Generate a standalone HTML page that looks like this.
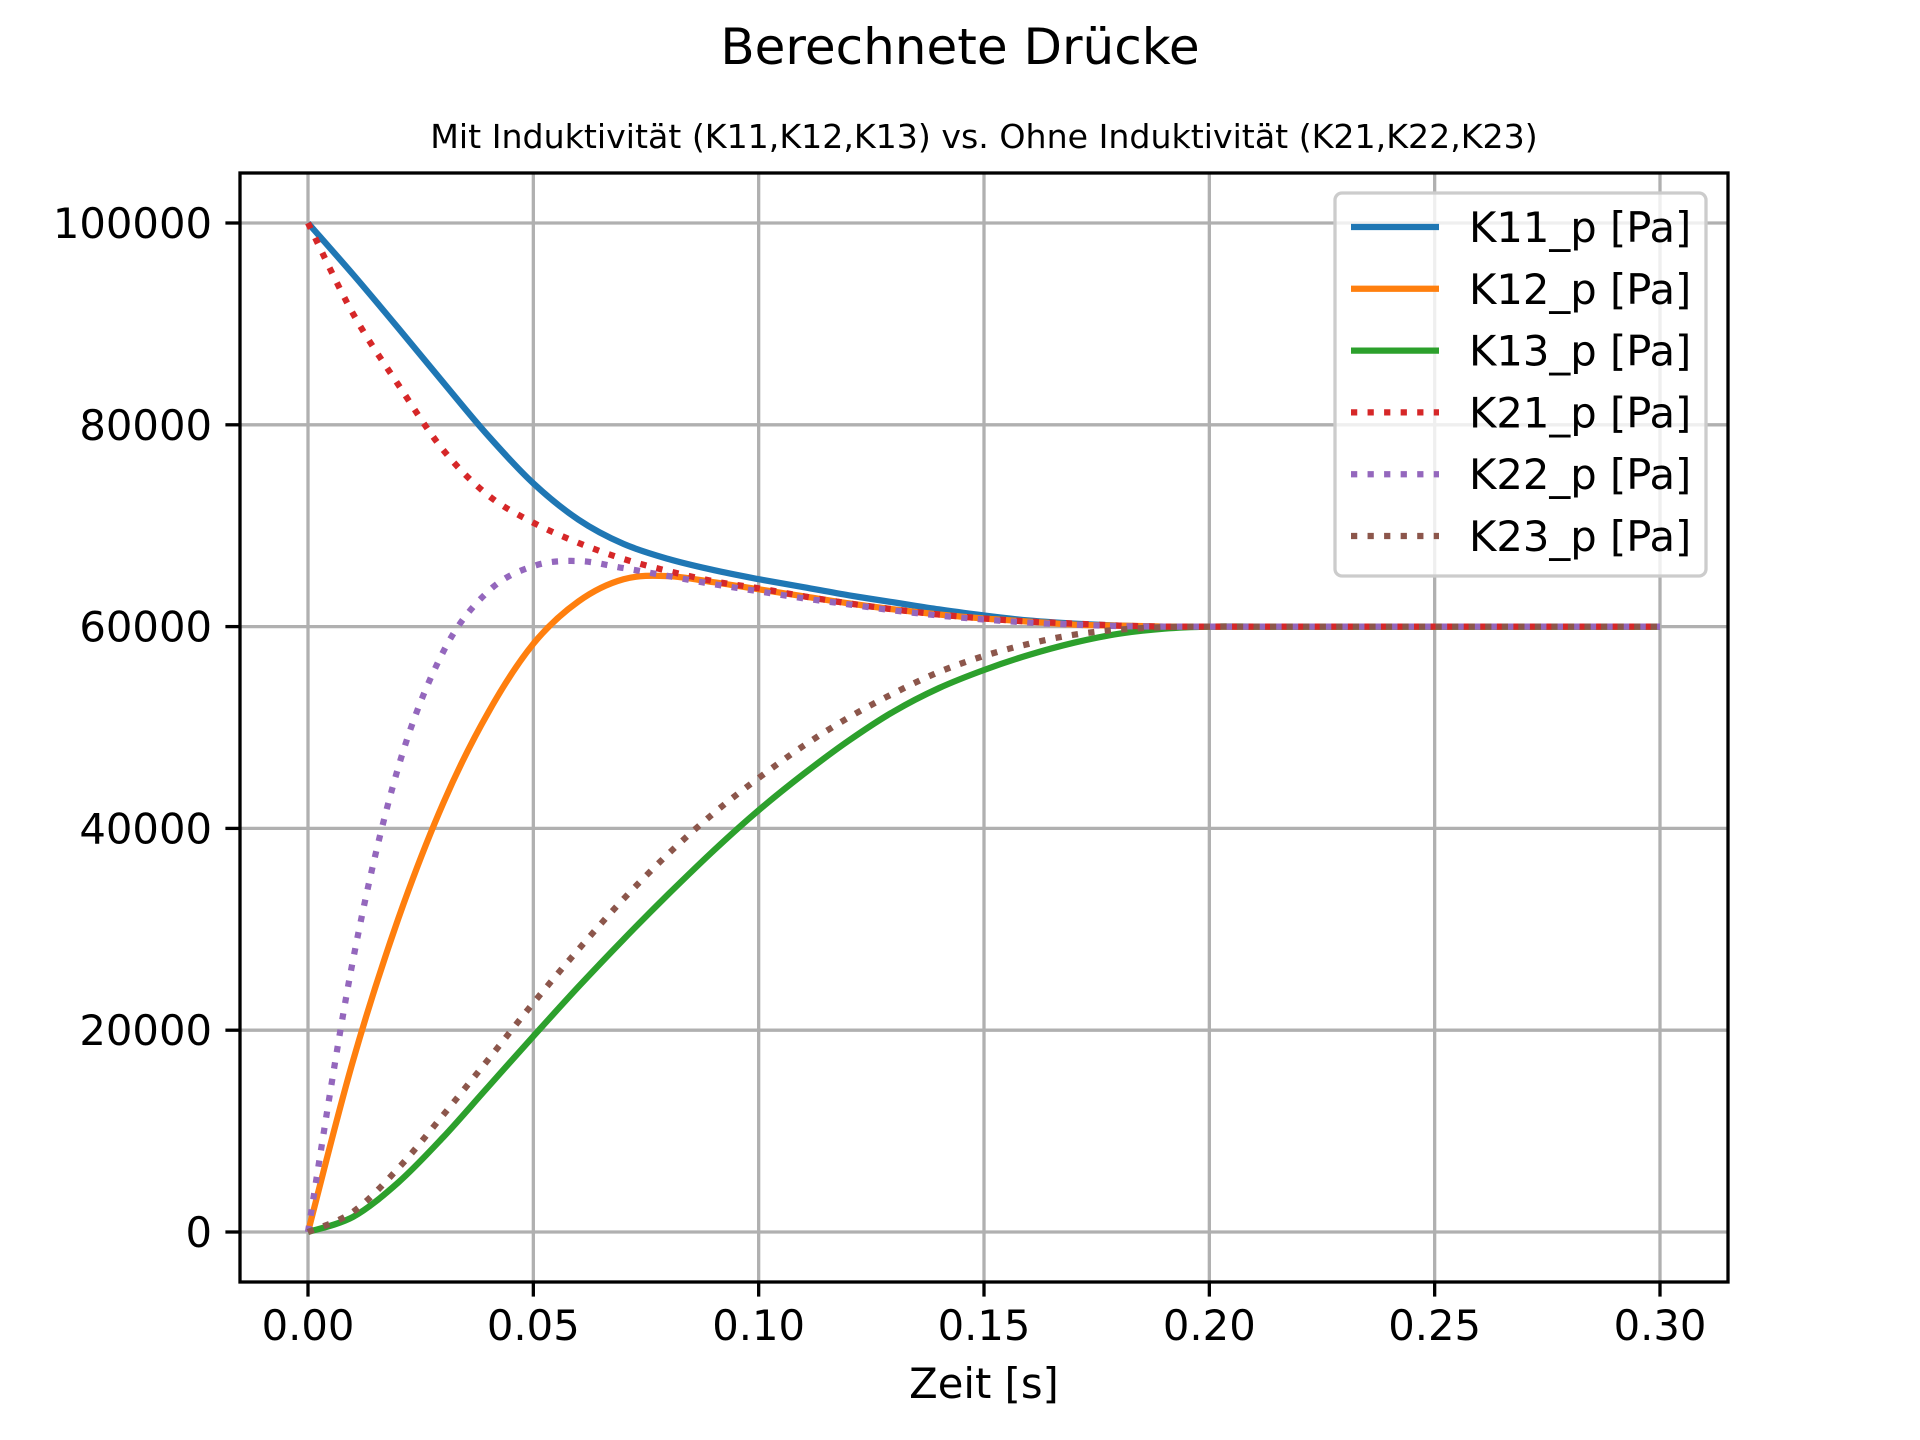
<!DOCTYPE html>
<html><head><meta charset="utf-8"><style>
html,body{margin:0;padding:0;background:#fff;}
svg{display:block;font-family:"DejaVu Sans","Liberation Sans",sans-serif;}
</style></head><body>
<svg id="chart" width="1920" height="1440" viewBox="0 0 1920 1440" xmlns="http://www.w3.org/2000/svg">
<rect width="1920" height="1440" fill="#fff"/>
<text x="960" y="64" font-size="50" text-anchor="middle">Berechnete Drücke</text>
<text x="984" y="148" font-size="33.2" text-anchor="middle">Mit Induktivität (K11,K12,K13) vs. Ohne Induktivität (K21,K22,K23)</text>
<g id="grid"></g>
<g id="series"></g>
<rect x="240" y="173" width="1488" height="1109" fill="none" stroke="#000" stroke-width="3.3"/>
<g id="ticks"></g>
<text x="984" y="1398" font-size="41.7" text-anchor="middle">Zeit [s]</text>
<g id="legend"></g>
</svg>
<script>
const times = [0,0.01,0.02,0.03,0.04,0.05,0.06,0.07,0.08,0.09,0.10,0.11,0.12,0.13,0.14,0.15,0.16,0.17,0.18,0.19,0.20,0.21,0.22,0.23,0.24,0.25,0.26,0.27,0.28,0.29,0.30];
const K11 = [100000,94900,89600,84200,78900,74200,70600,68200,66700,65600,64700,63900,63100,62400,61700,61100,60600,60300,60100,60000,60000,60000,60000,60000,60000,60000,60000,60000,60000,60000,60000];
const K12 = [0,17000,31000,42500,51500,58300,62500,64700,65000,64400,63700,63000,62300,61700,61200,60800,60500,60200,60100,60000,60000,60000,60000,60000,60000,60000,60000,60000,60000,60000,60000];
const K13 = [0,1500,4900,9400,14400,19400,24300,29000,33500,37800,41800,45400,48700,51600,53900,55700,57200,58400,59300,59800,60000,60000,60000,60000,60000,60000,60000,60000,60000,60000,60000];
const K21 = [100000,91000,84000,77500,73000,70300,68300,66700,65500,64500,63800,63000,62300,61700,61200,60800,60500,60300,60100,60000,60000,60000,60000,60000,60000,60000,60000,60000,60000,60000,60000];
const K22 = [0,27000,46000,57500,63500,66000,66500,65800,65000,64200,63500,62800,62200,61600,61100,60700,60400,60200,60050,60000,60000,60000,60000,60000,60000,60000,60000,60000,60000,60000,60000];
const K23 = [0,2000,6300,11600,17100,22700,28000,33000,37500,41500,45000,48200,51000,53400,55500,57100,58300,59200,59700,59950,60000,60000,60000,60000,60000,60000,60000,60000,60000,60000,60000];
const xTicks = [0,0.05,0.10,0.15,0.20,0.25,0.30];
const xTickLabels = ["0.00","0.05","0.10","0.15","0.20","0.25","0.30"];
const yTicks = [0,20000,40000,60000,80000,100000];
const yTickLabels = ["0","20000","40000","60000","80000","100000"];
const seriesNames = ["K11_p [Pa]","K12_p [Pa]","K13_p [Pa]","K21_p [Pa]","K22_p [Pa]","K23_p [Pa]"];

const NS="http://www.w3.org/2000/svg";
function xs(t){return 308+(t/0.3)*(1660-308);}
function ys(v){return 1232-(v/100000)*(1232-223);}
function mk(tag,attrs,parent){const e=document.createElementNS(NS,tag);for(const k in attrs)e.setAttribute(k,attrs[k]);parent.appendChild(e);return e;}
function smooth(P){
  let d='M'+P[0][0].toFixed(1)+','+P[0][1].toFixed(1);
  for(let i=0;i<P.length-1;i++){
    const p0=P[Math.max(0,i-1)],p1=P[i],p2=P[i+1],p3=P[Math.min(P.length-1,i+2)];
    const c1=[p1[0]+(p2[0]-p0[0])/6,p1[1]+(p2[1]-p0[1])/6];
    const c2=[p2[0]-(p3[0]-p1[0])/6,p2[1]-(p3[1]-p1[1])/6];
    d+=' C'+c1[0].toFixed(1)+','+c1[1].toFixed(1)+' '+c2[0].toFixed(1)+','+c2[1].toFixed(1)+' '+p2[0].toFixed(1)+','+p2[1].toFixed(1);
  }
  return d;
}
const grid=document.getElementById('grid'),ticks=document.getElementById('ticks'),ser=document.getElementById('series'),leg=document.getElementById('legend');
xTicks.forEach((t,i)=>{
  const x=xs(t);
  const g=mk('line',{x1:x,x2:x,y1:173,y2:1282,stroke:'#b0b0b0','stroke-width':3.3},grid);
  
  
  const tk=mk('line',{x1:x,x2:x,y1:1282,y2:1296.6,stroke:'#000','stroke-width':3.3},ticks);
  
  
  const tx=mk('text',{x:x,y:1340,'font-size':41.7,'text-anchor':'middle'},ticks);
  
  
  tx.textContent=xTickLabels[i];
});
yTicks.forEach((v,i)=>{
  const y=ys(v);
  const g=mk('line',{x1:240,x2:1728,y1:y,y2:y,stroke:'#b0b0b0','stroke-width':3.3},grid);
  
  
  const tk=mk('line',{x1:225.4,x2:240,y1:y,y2:y,stroke:'#000','stroke-width':3.3},ticks);
  
  
  const tx=mk('text',{x:212,y:y+15,'font-size':41.7,'text-anchor':'end'},ticks);
  
  
  tx.textContent=yTickLabels[i];
});
const allData=[K11,K12,K13,K21,K22,K23];
const colors=['#1f77b4','#ff7f0e','#2ca02c','#d62728','#9467bd','#8c564b'];
const dotted=[false,false,false,true,true,true];
allData.forEach((d,i)=>{
  const pts=d.map((v,j)=>[xs(times[j]),ys(v)]);
  const a={d:smooth(pts),fill:'none',stroke:colors[i],'stroke-width':6.25,'stroke-linejoin':'round'};
  if(dotted[i]){a['stroke-dasharray']='6.25 10.3';}
  const p=mk('path',a,ser);
  
  
});
const box=mk('rect',{x:1335,y:193,width:371,height:383,rx:7,fill:'#fff','fill-opacity':0.8,stroke:'#ccc','stroke-width':3.3},leg);


seriesNames.forEach((n,i)=>{
  const y=227+i*61.8;
  const a={x1:1351,x2:1439,y1:y,y2:y,stroke:colors[i],'stroke-width':6.25};
  if(dotted[i]){a['stroke-dasharray']='6.25 10.3';}
  const l=mk('line',a,leg);
  
  
  const t=mk('text',{x:1469,y:y+15,'font-size':41.7},leg);
  
  
  t.textContent=n;
});
</script>
</body></html>
